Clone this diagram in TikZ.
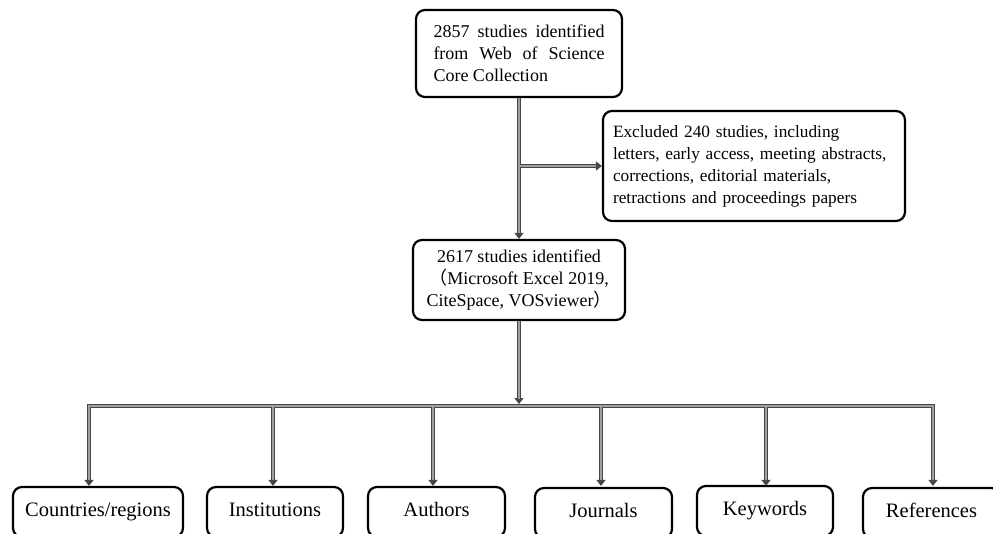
\documentclass[tikz,border=0pt]{standalone}
\usepackage{fontspec}
\setmainfont{Liberation Serif}
\newfontfamily\cjkfont{Noto Sans CJK SC}
\usetikzlibrary{arrows.meta,calc}
\begin{document}
\begin{tikzpicture}[x=1pt,y=-1pt,
  box/.style={draw=black, line width=2.2pt, rounded corners=9pt, inner sep=0pt, font=\fontsize{18}{22}\selectfont},
  leaf/.style={box, minimum height=50pt, text height=14pt, text depth=4.5pt, font=\fontsize{20.5}{24}\selectfont},
  connout/.style={draw=gray!55!black, line width=4.2pt},
  connarr/.style={connout, -{Triangle[width=9pt,length=6pt]}},
  connin/.style={draw=gray!75, line width=2pt},
  connina/.style={connin, shorten >=5.5pt},
]
\useasboundingbox (0,0) rectangle (993,533);
\clip (0,0) rectangle (993,533);

% boxes
\node[box, text width=171pt, minimum width=206pt, minimum height=87pt, align=justify] (top) at (519,53.5)
  {2857 studies identified\linebreak from Web of Science\linebreak Core Collection};
\node[box, text width=282pt, minimum width=302pt, minimum height=110pt, align=left, font=\fontsize{17.3}{22}\selectfont] (excl) at (754,166)
  {\mbox{Excluded 240 studies, including}\\\mbox{letters, early access, meeting abstracts,}\\\mbox{corrections, editorial materials,}\\\mbox{retractions and proceedings papers}};
\node[box, minimum width=212pt, minimum height=80pt, align=center] (mid) at (519,280)
  {2617 studies identified\\{\cjkfont （}Microsoft Excel 2019,\\CiteSpace, VOSviewer{\cjkfont ）}};

\node[leaf, minimum width=170pt] (b1) at (98,512) {Countries/regions};
\node[leaf, minimum width=136pt] (b2) at (275,512) {Institutions};
\node[leaf, minimum width=137pt] (b3) at (436.5,512) {Authors};
\node[leaf, minimum width=137pt] (b4) at (603.5,513) {Journals};
\node[leaf, minimum width=136pt] (b5) at (765,511) {Keywords};
\node[leaf, minimum width=137pt] (b6) at (931.5,513) {References};

% connector points
\coordinate (br) at (top.south |- excl.west);
\coordinate (bustop) at (519,404);
\coordinate (a1) at (89,406);
\coordinate (a2) at (273,406);
\coordinate (a3) at (433,406);
\coordinate (a4) at (601,406);
\coordinate (a5) at (766,406);
\coordinate (a6) at (933,406);

% outer pass
\draw[connarr] (top.south) -- (mid.north);
\draw[connarr] (br) -- (excl.west);
\draw[connarr] (mid.south) -- (bustop);
\draw[connout, line cap=rect] (a1) -- (a6);
\foreach \i in {1,...,6} {
  \draw[connarr] (a\i) -- (a\i |- b1.north);
}
% inner pass
\draw[connina] (top.south) -- (mid.north);
\draw[connina] (br) -- (excl.west);
\draw[connina] (mid.south) -- (bustop);
\draw[connin, line cap=rect] (a1) -- (a6);
\foreach \i in {1,...,6} {
  \draw[connina] (a\i) -- (a\i |- b1.north);
}
\end{tikzpicture}
\end{document}
